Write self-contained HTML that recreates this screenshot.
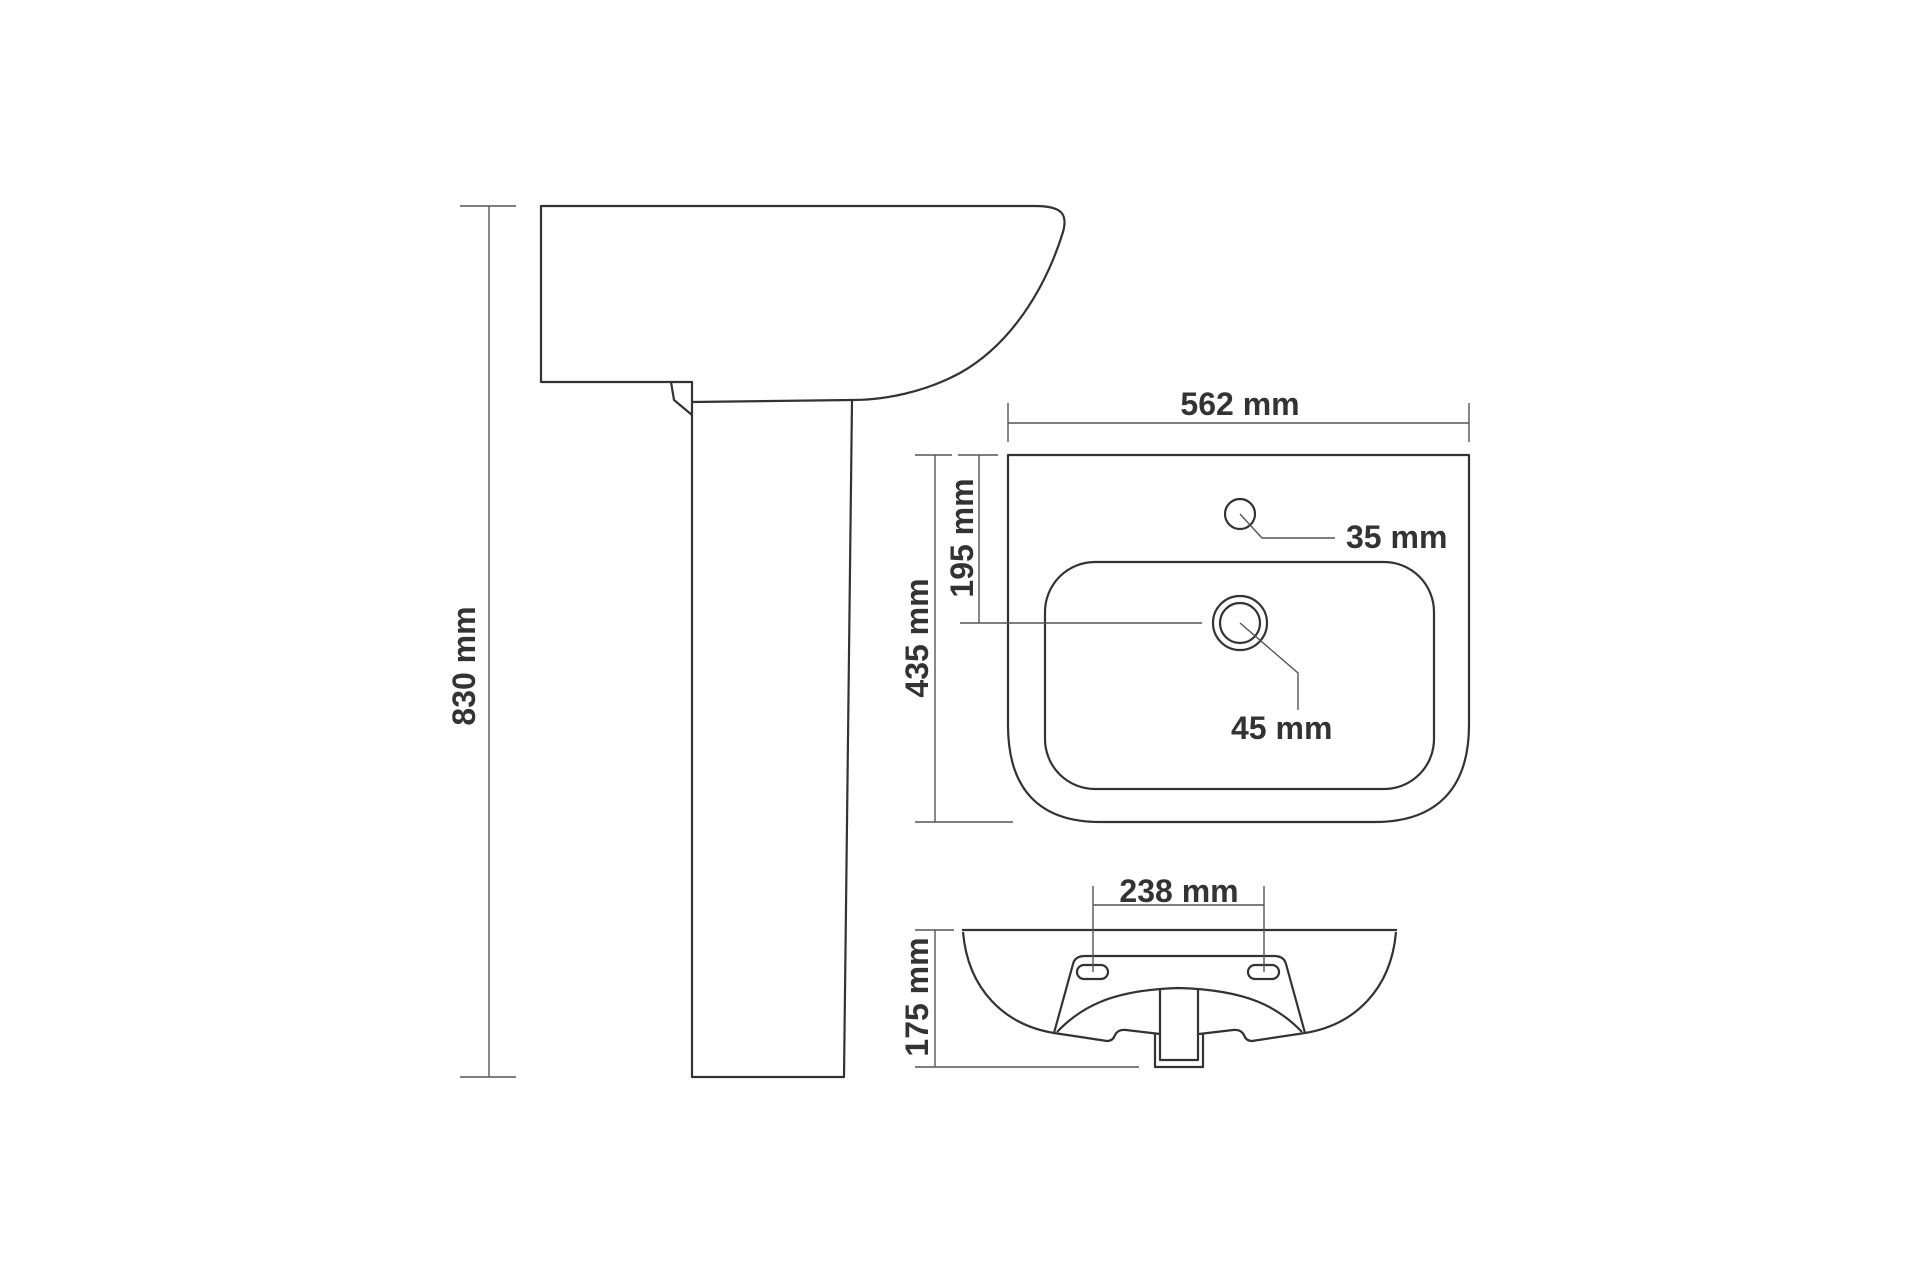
<!DOCTYPE html>
<html><head><meta charset="utf-8"><style>
html,body{margin:0;padding:0;background:#fff;}
svg{display:block;}
text{font-family:"Liberation Sans",Arial,sans-serif;font-weight:bold;font-size:32px;fill:#333;}
</style></head><body>
<svg width="1921" height="1281" viewBox="0 0 1921 1281" xmlns="http://www.w3.org/2000/svg">
<g fill="none" stroke="#333" stroke-width="2.2" stroke-linejoin="round">
  <path d="M541,206 L1035,206 C1062,206 1068,214 1063,232 C1045,290 1010,345 960,373 C925,392 885,400 852,400 L692,402 L692,382 L541,382 Z"/>
  <path d="M671,382 L674,400 L692,415"/>
  <path d="M692,402 L692,1077 L844,1077 L852,400"/>
  <path d="M1008,455 L1469,455 L1469,725 C1469,790 1435,822 1375,822 L1100,822 C1040,822 1008,790 1008,725 Z"/>
  <rect x="1045" y="562" width="389" height="227" rx="50"/>
  <circle cx="1240" cy="514" r="15"/>
  <circle cx="1240" cy="623" r="27"/>
  <circle cx="1240" cy="623" r="20"/>
  <path d="M962,930 L1397,930"/>
  <path d="M963,932 C968,990 1005,1025 1054,1033 M1396,932 C1391,990 1354,1025 1305,1033"/>
  <path d="M1054,1033 L1073,964 Q1075,956 1085,956 L1274,956 Q1284,956 1286,964 L1305,1033"/>
  <path d="M1054,1033 L1107,1041 Q1113,1041 1115,1035 Q1118,1029 1126,1030 L1160,1034 M1305,1033 L1252,1041 Q1246,1041 1244,1035 Q1241,1029 1233,1030 L1199,1034"/>
  <path d="M1057,1032 C1080,1008 1110,990 1179,988 C1249,990 1279,1008 1302,1032"/>
  <path d="M1155,1033 L1155,1067 L1203,1067 L1203,1033"/>
  <path d="M1160,990 L1160,1060 L1198,1060 L1198,990"/>
  <rect x="1077" y="965" width="31" height="14" rx="7"/>
  <rect x="1248" y="965" width="31" height="14" rx="7"/>
</g>
<g fill="none" stroke="#555" stroke-width="1.4">
  <path d="M489,206 L489,1077 M460,206 L516,206 M460,1077 L516,1077"/>
  <path d="M1008,423 L1469,423 M1008,403 L1008,442 M1469,403 L1469,442"/>
  <path d="M935,455 L935,822 M915,455 L952,455 M915,822 L1013,822"/>
  <path d="M979,455 L979,623 M958,455 L998,455 M960,623 L1202,623"/>
  <path d="M1240,514 L1262,538 L1335,538"/>
  <path d="M1240,623 L1298,673 L1298,710"/>
  <path d="M1093,886 L1093,972 M1264,886 L1264,972 M1093,905 L1264,905"/>
  <path d="M935,930 L935,1067 M915,930 L954,930 M915,1067 L1139,1067"/>
</g>
<text x="1240" y="415" text-anchor="middle">562 mm</text>
<text x="1346" y="548">35 mm</text>
<text x="1231" y="739">45 mm</text>
<text x="1179" y="902" text-anchor="middle">238 mm</text>
<text transform="translate(475,666) rotate(-90)" text-anchor="middle">830 mm</text>
<text transform="translate(928,638) rotate(-90)" text-anchor="middle">435 mm</text>
<text transform="translate(973,538) rotate(-90)" text-anchor="middle">195 mm</text>
<text transform="translate(928,997) rotate(-90)" text-anchor="middle">175 mm</text>
</svg>
</body></html>
